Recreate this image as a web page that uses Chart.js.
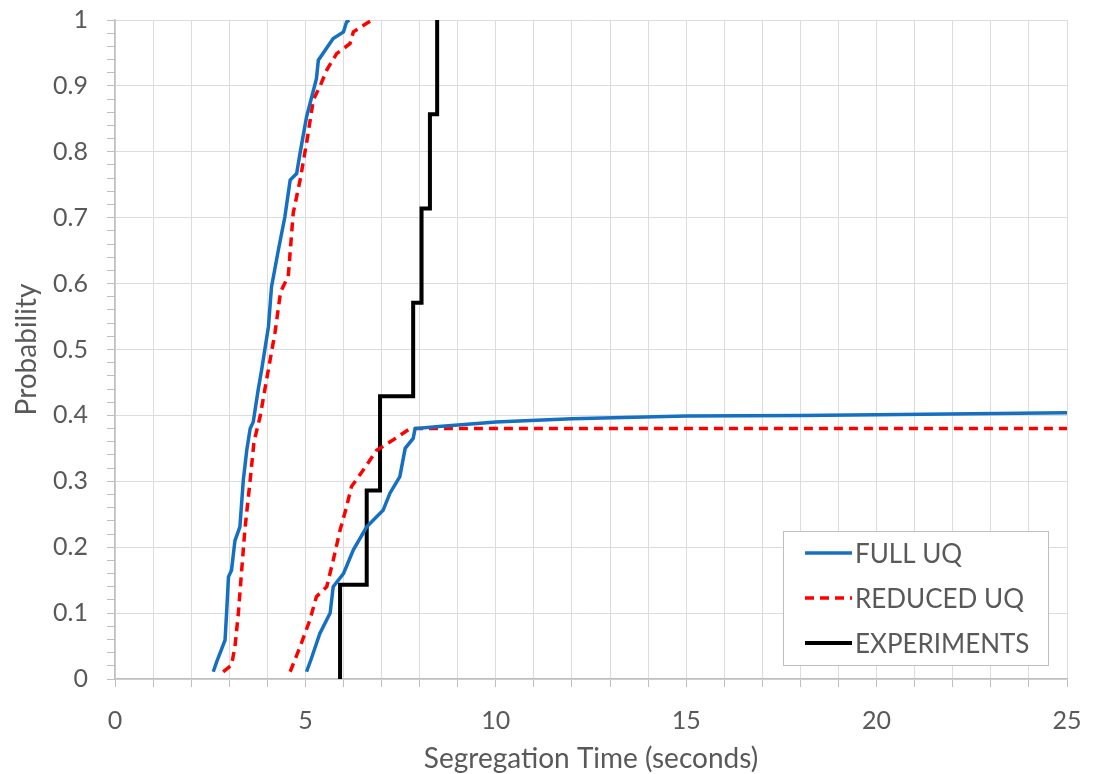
<!DOCTYPE html>
<html>
<head>
<meta charset="utf-8">
<script src="https://cdn.jsdelivr.net/npm/chart.js@4.4.1/dist/chart.umd.min.js"></script>
<style>
  html, body { margin: 0; padding: 0; background: #fff; }
  #wrap { width: 1093px; height: 774px; }
</style>
</head>
<body>
<div id="wrap"><canvas id="cdf"></canvas></div>
<script>
// Full UQ - two branches
var fullX1 = [2.58,2.67,2.89,2.93,2.98,3.06,3.15,3.28,3.37,3.46,3.55,3.63,3.76,3.85,4.03,4.11,4.29,4.46,4.60,4.77,4.86,5.03,5.29,5.34,5.73,6.00,6.08,6.15];
var fullY1 = [0.011,0.026,0.059,0.10,0.155,0.165,0.21,0.231,0.302,0.347,0.38,0.39,0.439,0.469,0.535,0.595,0.651,0.701,0.757,0.767,0.798,0.853,0.911,0.939,0.972,0.982,0.997,1.0];
var fullX2 = [5.03,5.15,5.38,5.65,5.73,6.00,6.26,6.61,7.04,7.22,7.48,7.62,7.83,7.88,8.5,9.59,10,12,15,18,20,25];
var fullY2 = [0.011,0.03,0.069,0.10,0.14,0.16,0.196,0.231,0.256,0.282,0.307,0.35,0.365,0.38,0.383,0.388,0.390,0.395,0.399,0.400,0.401,0.404];

// Reduced UQ
var redX1 = [2.84,3.06,3.15,3.24,3.32,3.41,3.55,3.65,3.81,3.98,4.20,4.33,4.37,4.55,4.68,4.86,5.03,5.21,5.38,5.56,5.82,6.17,6.26,6.61,6.75];
var redY1 = [0.011,0.021,0.049,0.10,0.16,0.226,0.302,0.36,0.398,0.454,0.525,0.58,0.59,0.611,0.707,0.757,0.813,0.879,0.899,0.924,0.949,0.964,0.982,0.995,1.0];
var redX2 = [4.60,4.86,5.12,5.29,5.56,5.73,5.91,6.08,6.21,6.52,6.87,7.31,7.75,8.0,25];
var redY2 = [0.011,0.049,0.09,0.125,0.14,0.18,0.226,0.261,0.292,0.317,0.347,0.363,0.38,0.38,0.38];

// Experiments (empirical CDF, stepped)
var expX = [5.91,5.91,6.61,6.96,7.83,8.05,8.27,8.46];
var expY = [0,0.143,0.286,0.429,0.571,0.714,0.857,1.0];

var seriesNames = ["FULL UQ", "REDUCED UQ", "EXPERIMENTS"];
var xTickLabels = [0, 5, 10, 15, 20, 25];
var yTickLabels = [0, 0.1, 0.2, 0.3, 0.4, 0.5, 0.6, 0.7, 0.8, 0.9, 1];

var FONT = "Lato";
var GREY = "#595959";

function pts(xs, ys) {
  var out = [];
  for (var i = 0; i < xs.length; i++) out.push({x: xs[i], y: ys[i]});
  return out;
}

// legend box drawn inside the plot, like the original
var boxLegend = {
  id: 'boxLegend',
  afterDraw: function(chart) {
    var ctx = chart.ctx;
    var L = 783, T = 531, W = 265, H = 134;
    ctx.save();
    ctx.fillStyle = '#fff';
    ctx.fillRect(L, T, W, H);
    ctx.strokeStyle = '#bfbfbf';
    ctx.lineWidth = 1;
    ctx.strokeRect(L + 0.5, T + 0.5, W, H);
    var rows = [553, 598, 643];
    chart.data.datasets.forEach(function(ds, i) {
      var y = rows[i];
      ctx.beginPath();
      ctx.strokeStyle = ds.borderColor;
      ctx.lineWidth = ds.borderWidth;
      ctx.setLineDash(ds.borderDash || []);
      ctx.moveTo(805, y);
      ctx.lineTo(852, y);
      ctx.stroke();
      ctx.setLineDash([]);
      ctx.fillStyle = GREY;
      ctx.font = '26px ' + FONT;
      ctx.textBaseline = 'middle';
      ctx.fillText(ds.label, 855, y + 1.5);
    });
    ctx.restore();
  }
};

var fullData = pts(fullX1, fullY1);
fullData.push({x: 6.2, y: null});
fullData = fullData.concat(pts(fullX2, fullY2));

var redData = pts(redX1, redY1);
redData.push({x: 6.8, y: null});
redData = redData.concat(pts(redX2, redY2));

var chart = new Chart(document.getElementById('cdf'), {
  type: 'scatter',
  data: {
    datasets: [
      { label: seriesNames[0], data: fullData, showLine: true, borderColor: '#1670c2', borderWidth: 3.5, pointRadius: 0, spanGaps: false, tension: 0 },
      { label: seriesNames[1], data: redData, showLine: true, borderColor: '#ff0000', borderWidth: 3.5, borderDash: [9, 6], pointRadius: 0, spanGaps: false, tension: 0 },
      { label: seriesNames[2], data: pts(expX, expY), showLine: true, stepped: 'before', borderColor: '#000000', borderWidth: 4, pointRadius: 0 }
    ]
  },
  options: {
    responsive: true,
    maintainAspectRatio: false,
    animation: false,
    layout: { padding: { left: 0, top: 20, right: 26, bottom: 0 } },
    plugins: {
      legend: { display: false },
      tooltip: { enabled: false }
    },
    scales: {
      x: {
        type: 'linear',
        min: 0, max: 25,
        afterFit: function(s) { s.height = 95; s.paddingLeft = 0; s.paddingRight = 0; },
        ticks: {
          stepSize: 1,
          autoSkip: false,
          maxRotation: 0,
          padding: 19,
          color: GREY,
          font: { family: FONT, size: 25 },
          callback: function(v) {
            var r = Math.round(v);
            if (Math.abs(v - r) > 1e-6) return '';
            return xTickLabels.indexOf(r) >= 0 ? String(r) : '';
          }
        },
        grid: { color: '#dcdcdc', tickColor: '#bfbfbf', tickLength: 8, lineWidth: 1 },
        border: { color: '#bfbfbf', width: 1.5 },
        title: { display: true, text: 'Segregation Time (seconds)', color: GREY, font: { family: FONT, size: 28, lineHeight: 1.1 }, padding: { top: 0, bottom: 0 } }
      },
      y: {
        min: 0, max: 1,
        afterFit: function(s) { s.width = 115; s.paddingTop = 0; s.paddingBottom = 0; },
        ticks: {
          stepSize: 0.02,
          autoSkip: false,
          padding: 19,
          color: GREY,
          font: { family: FONT, size: 25 },
          callback: function(v) {
            var k = Math.round(v * 50);
            if (k % 5 !== 0) return '';
            var val = Math.round(v * 10) / 10;
            return yTickLabels.indexOf(val) >= 0 ? String(val) : '';
          }
        },
        grid: {
          color: function(c) { var k = Math.round(c.tick.value * 50); return k % 5 === 0 ? '#dcdcdc' : 'rgba(0,0,0,0)'; },
          tickColor: '#bfbfbf',
          tickLength: 8
        },
        border: { color: '#bfbfbf', width: 1.5 },
        title: { display: true, text: 'Probability', color: GREY, font: { family: FONT, size: 28 }, padding: { top: 10, bottom: 0 } }
      }
    }
  },
  plugins: [boxLegend]
});
</script>
</body>
</html>
